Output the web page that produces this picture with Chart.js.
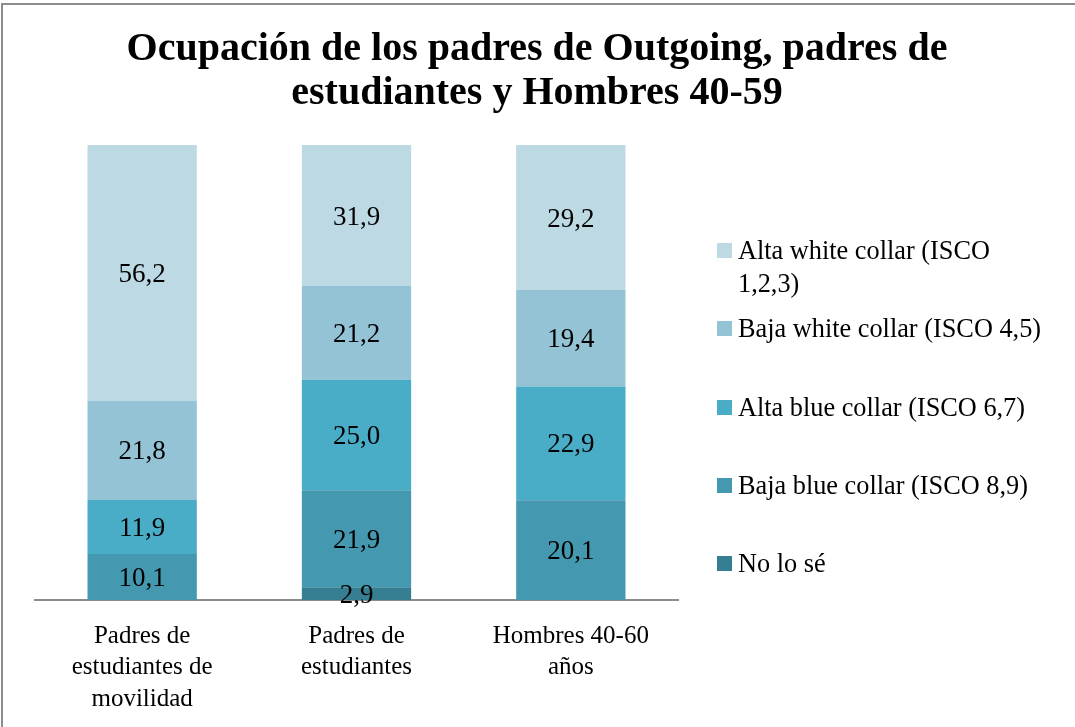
<!DOCTYPE html>
<html lang="es">
<head>
<meta charset="UTF-8"/>
<title>Ocupación de los padres</title>
<script src="https://cdn.jsdelivr.net/npm/chart.js@4.4.0/dist/chart.umd.min.js"></script>
<style>
  html, body { margin: 0; padding: 0; background: #fff; }
  #wrap { position: relative; width: 1075px; height: 727px; }
  #frame { position: absolute; left: 1px; top: 3px; right: 0; bottom: 0; border: 2px solid #8c8c8c; border-right: none; border-bottom: none; pointer-events: none; }
</style>
</head>
<body>
<div id="wrap">
  <canvas id="chart" width="1075" height="727"></canvas>
  <div id="frame"></div>
</div>
<script>
const chartTitle = ['Ocupación de los padres de Outgoing, padres de', 'estudiantes y Hombres 40-59'];
const categories = [
  ['Padres de', 'estudiantes de', 'movilidad'],
  ['Padres de', 'estudiantes'],
  ['Hombres 40-60', 'años']
];
// series, bottom to top
const noLoSe      = [0, 2.9, 0];
const bajaBlue    = [10.1, 21.9, 20.1];
const altaBlue    = [11.9, 25.0, 22.9];
const bajaWhite   = [21.8, 21.2, 19.4];
const altaWhite   = [56.2, 31.9, 29.2];

const seriesNames = [
  'No lo sé',
  'Baja blue collar (ISCO 8,9)',
  'Alta blue collar (ISCO 6,7)',
  'Baja white collar (ISCO 4,5)',
  'Alta white collar (ISCO 1,2,3)'
];
const colors = ['#367f93', '#4499b0', '#4aadc7', '#93c3d4', '#bdd9e4'];
const raw = [noLoSe, bajaBlue, altaBlue, bajaWhite, altaWhite];

// 100% stacked: normalise each column
const totals = categories.map((c, i) => raw.reduce((s, arr) => s + arr[i], 0));
const datasets = raw.map((arr, k) => ({
  label: seriesNames[k],
  data: arr.map((v, i) => v / totals[i] * 100),
  rawValues: arr,
  backgroundColor: colors[k],
  borderWidth: 0,
  barPercentage: 0.51,
  categoryPercentage: 1
}));

const FONT = "'Liberation Serif', 'DejaVu Serif', serif";

// title drawn over the full width (chart box is padded for the legend)
const wideTitle = {
  id: 'wideTitle',
  afterDraw(chart) {
    const ctx = chart.ctx;
    ctx.save();
    ctx.font = 'bold 40px ' + FONT;
    ctx.fillStyle = '#000';
    ctx.textAlign = 'center';
    ctx.textBaseline = 'middle';
    chartTitle.forEach((t, j) => ctx.fillText(t, 537, 50 + j * 44));
    ctx.restore();
  }
};

const valueLabels = {
  id: 'valueLabels',
  afterDatasetsDraw(chart) {
    const ctx = chart.ctx;
    ctx.save();
    ctx.font = '27px ' + FONT;
    ctx.fillStyle = '#000';
    ctx.textAlign = 'center';
    ctx.textBaseline = 'middle';
    chart.data.datasets.forEach((ds, k) => {
      chart.getDatasetMeta(k).data.forEach((bar, i) => {
        const v = ds.rawValues[i];
        if (!v) return;
        ctx.fillText(v.toFixed(1).replace('.', ','), bar.x, (bar.y + bar.base) / 2 + 2);
      });
    });
    ctx.restore();
  }
};

const sideLegend = {
  id: 'sideLegend',
  afterDraw(chart) {
    const ctx = chart.ctx;
    ctx.save();
    ctx.font = '26.3px ' + FONT;
    ctx.textBaseline = 'middle';
    const rows = [
      { k: 4, y: 250, lines: ['Alta white collar (ISCO', '1,2,3)'] },
      { k: 3, y: 328, lines: ['Baja white collar (ISCO 4,5)'] },
      { k: 2, y: 407, lines: ['Alta blue collar (ISCO 6,7)'] },
      { k: 1, y: 485, lines: ['Baja blue collar (ISCO 8,9)'] },
      { k: 0, y: 563, lines: ['No lo sé'] }
    ];
    rows.forEach(r => {
      ctx.fillStyle = chart.data.datasets[r.k].backgroundColor;
      ctx.fillRect(717, r.y - 7, 15, 15);
      ctx.fillStyle = '#000';
      r.lines.forEach((t, j) => ctx.fillText(t, 738, r.y + 2 + j * 33));
    });
    ctx.restore();
  }
};

new Chart(document.getElementById('chart'), {
  type: 'bar',
  data: { labels: categories, datasets: datasets },
  options: {
    responsive: false,
    animation: false,
    layout: { padding: { left: 35, right: 397, top: 145, bottom: 0 } },
    plugins: {
      legend: { display: false },
      tooltip: { enabled: false },
      title: { display: false }
    },
    scales: {
      x: {
        stacked: true,
        grid: { display: false },
        border: { display: true, color: '#8c8c8c', width: 2 },
        ticks: { color: '#000', font: { family: FONT, size: 25, lineHeight: 1.25 }, padding: 13, maxRotation: 0 },
        afterFit(scale) { scale.height = 127; }
      },
      y: {
        stacked: true,
        display: false,
        min: 0,
        max: 100
      }
    }
  },
  plugins: [valueLabels, sideLegend, wideTitle]
});
</script>
</body>
</html>
